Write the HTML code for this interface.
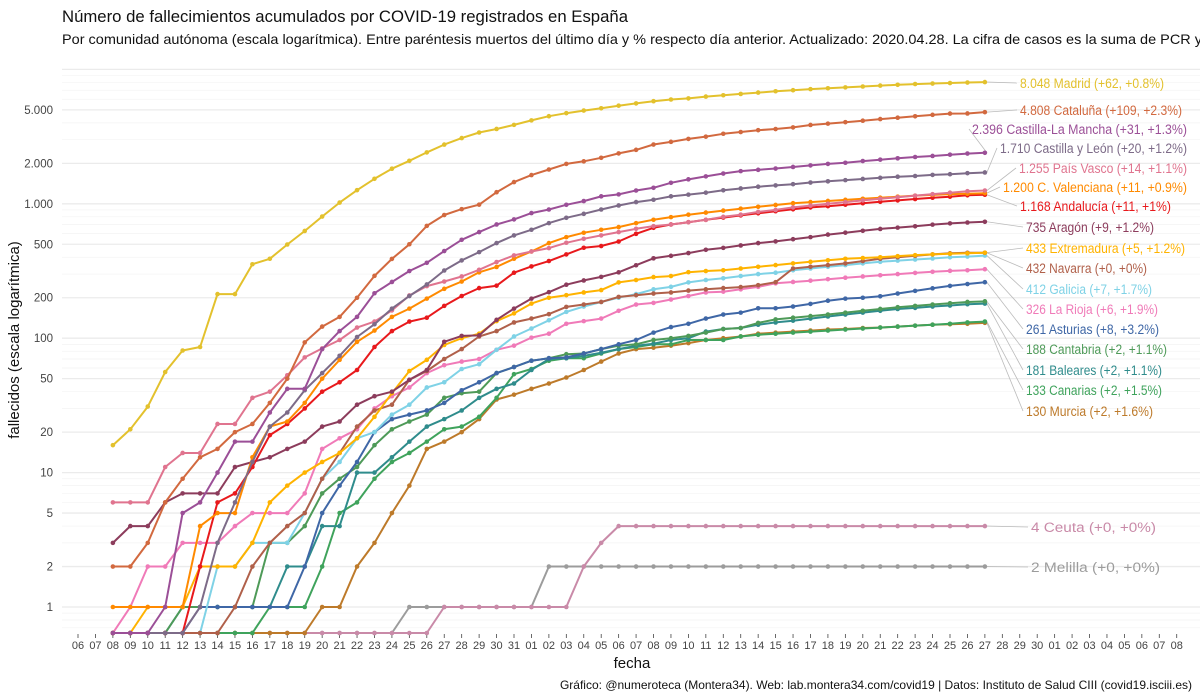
<!DOCTYPE html>
<html><head><meta charset="utf-8"><title>Fallecimientos COVID-19 España</title>
<style>
html,body{margin:0;padding:0;background:#fff;}
svg{display:block;font-family:"Liberation Sans Narrow","Liberation Sans",sans-serif;}
</style></head>
<body>
<svg id="chart" width="1200" height="700" viewBox="0 0 1200 700" xmlns="http://www.w3.org/2000/svg">
<text x="62" y="22" font-size="17" fill="#111" textLength="566" lengthAdjust="spacingAndGlyphs">Número de fallecimientos acumulados por COVID-19 registrados en España</text>
<text x="62" y="44" font-size="14" fill="#111" textLength="1140" lengthAdjust="spacingAndGlyphs">Por comunidad autónoma (escala logarítmica). Entre paréntesis muertos del último día y % respecto día anterior. Actualizado: 2020.04.28. La cifra de casos es la suma de PCR y</text>
<g id="grid"></g>
<g id="yaxis"></g>
<g id="xaxis"></g>
<g id="leaders"></g>
<g id="series"></g>
<g id="labels"></g>
<text transform="translate(19,340) rotate(-90)" text-anchor="middle" font-size="15" fill="#111">fallecidos (escala logarítmica)</text>
<text x="632" y="668" text-anchor="middle" font-size="15" fill="#111">fecha</text>
<text x="1192" y="689" text-anchor="end" font-size="12" fill="#111">Gráfico: @numeroteca (Montera34). Web: lab.montera34.com/covid19 | Datos: Instituto de Salud CIII (covid19.isciii.es)</text>
</svg>
<script>
// ---- data (days from 2020-03-08 to 2020-04-27) ----
const regions = ["Madrid","Cataluña","Castilla-La Mancha","Castilla y León","País Vasco","C. Valenciana","Andalucía","Aragón","Extremadura","Navarra","Galicia","La Rioja","Asturias","Cantabria","Baleares","Canarias","Murcia","Ceuta","Melilla"];
const madrid = [16,21,31,56,81,86,213,213,355,390,498,628,804,1021,1263,1535,1825,2090,2412,2757,3082,3392,3603,3865,4175,4483,4723,4941,5136,5371,5586,5800,5972,6084,6278,6423,6568,6724,6877,7000,7132,7239,7351,7460,7577,7684,7779,7848,7917,7986,8048];
const cataluna = [2,2,3,6,9,13,15,20,23,33,50,93,122,144,200,291,389,500,685,825,913,985,1220,1450,1635,1800,1980,2070,2200,2370,2520,2760,2890,3040,3160,3320,3420,3530,3600,3700,3860,3950,4050,4150,4270,4370,4480,4590,4690,4700,4808];
const clm = [0,0,0,1,5,6,10,17,17,28,42,42,83,113,144,216,262,316,364,445,540,616,702,765,853,907,983,1048,1136,1175,1256,1316,1433,1520,1600,1680,1750,1790,1830,1880,1930,1980,2020,2080,2130,2180,2230,2270,2320,2365,2396];
const cyl = [0,0,0,0,0,1,3,6,12,22,28,41,55,74,102,127,166,206,251,319,379,437,510,582,641,718,787,842,907,972,1030,1072,1136,1170,1210,1260,1300,1340,1370,1400,1440,1470,1500,1530,1560,1590,1610,1640,1660,1690,1710];
const pvasco = [6,6,6,11,14,14,23,23,36,40,53,72,84,97,120,133,161,208,244,264,288,323,369,413,442,468,513,549,582,616,652,682,702,730,760,800,830,870,900,940,970,1000,1030,1060,1090,1120,1150,1180,1210,1241,1255];
const cvalenciana = [1,1,1,1,1,4,5,5,13,22,24,33,50,69,94,114,144,166,197,233,264,309,339,390,442,510,565,609,641,671,718,761,796,830,860,890,920,950,980,1010,1030,1050,1070,1090,1110,1130,1150,1165,1180,1189,1200];
const andalucia = [0,0,0,0,0,2,6,7,11,19,23,30,40,47,58,86,113,133,142,174,206,236,246,307,342,375,420,471,485,524,598,663,702,730,760,790,820,850,880,910,940,960,985,1010,1035,1060,1085,1110,1130,1157,1168];
const aragon = [3,4,4,6,7,7,7,11,12,13,15,17,22,24,32,37,40,49,58,94,104,105,137,166,197,220,250,269,286,309,349,393,410,430,455,470,490,510,525,545,565,590,610,630,650,665,680,700,715,726,735];
const extremadura = [0,0,1,1,1,2,2,2,3,6,8,10,12,14,18,26,39,57,69,89,100,108,134,153,181,200,209,219,228,260,271,285,290,310,316,320,330,340,350,360,370,380,390,395,400,408,415,420,425,428,433];
const navarra = [0,0,0,0,0,0,0,1,2,3,4,5,9,14,22,29,32,49,57,70,83,103,113,131,140,151,171,178,186,203,209,215,219,226,231,236,240,248,261,330,340,350,360,375,390,400,410,420,428,432,432];
const galicia = [0,0,0,0,0,0,2,2,3,3,3,5,9,12,18,20,27,32,43,47,59,64,82,103,118,136,157,172,186,200,213,231,241,260,271,279,290,300,307,320,330,340,350,360,370,378,385,392,400,405,412];
const rioja = [0,1,2,2,3,3,3,4,5,5,5,7,15,18,21,30,37,43,55,63,67,70,82,88,101,108,128,134,140,160,178,183,194,206,219,222,231,241,256,262,268,275,282,288,294,300,306,312,317,320,326];
const asturias = [0,0,0,0,0,1,1,1,1,1,1,2,5,8,12,20,25,27,29,33,41,47,55,61,68,71,72,77,83,90,97,110,121,128,140,150,155,167,167,172,180,190,197,200,205,215,225,235,245,253,261];
const cantabria = [0,0,0,0,1,1,1,1,1,3,3,4,7,9,11,16,21,24,27,36,39,40,55,61,68,71,76,77,83,88,90,97,100,104,110,117,119,130,138,142,146,150,155,160,165,170,174,178,182,186,188];
const baleares = [0,0,0,0,1,1,1,1,1,1,2,2,4,4,10,10,13,17,22,25,29,36,42,46,58,70,71,74,78,83,88,91,97,100,112,117,119,126,131,135,140,145,150,155,160,165,168,172,175,179,181];
const canarias = [0,0,0,0,0,0,0,0,0,1,1,1,2,5,6,9,12,14,17,21,22,26,36,54,59,68,71,71,77,83,86,90,90,97,97,97,103,106,108,110,112,114,116,118,120,122,124,126,128,131,133];
const murcia = [0,0,0,0,0,0,0,0,0,0,0,0,1,1,2,3,5,8,15,17,20,25,35,38,42,46,51,58,67,77,83,85,88,92,97,100,103,108,110,112,114,116,117,119,120,122,124,126,127,128,130];
const ceuta = [0,0,0,0,0,0,0,0,0,0,0,0,0,0,0,0,0,0,0,1,1,1,1,1,1,1,1,2,3,4,4,4,4,4,4,4,4,4,4,4,4,4,4,4,4,4,4,4,4,4,4];
const melilla = [0,0,0,0,0,0,0,0,0,0,0,0,0,0,0,0,0,1,1,1,1,1,1,1,1,2,2,2,2,2,2,2,2,2,2,2,2,2,2,2,2,2,2,2,2,2,2,2,2,2,2];
const labelTexts = ["8.048 Madrid (+62, +0.8%)","4.808 Cataluña (+109, +2.3%)","2.396 Castilla-La Mancha (+31, +1.3%)","1.710 Castilla y León (+20, +1.2%)","1.255 País Vasco (+14, +1.1%)","1.200 C. Valenciana (+11, +0.9%)","1.168 Andalucía (+11, +1%)","735 Aragón (+9, +1.2%)","433 Extremadura (+5, +1.2%)","432 Navarra (+0, +0%)","412 Galicia (+7, +1.7%)","326 La Rioja (+6, +1.9%)","261 Asturias (+8, +3.2%)","188 Cantabria (+2, +1.1%)","181 Baleares (+2, +1.1%)","133 Canarias (+2, +1.5%)","130 Murcia (+2, +1.6%)","4 Ceuta (+0, +0%)","2 Melilla (+0, +0%)"];
const yTickValues = [1,2,5,10,20,50,100,200,500,1000,2000,5000];
const yTickLabels = ["1","2","5","10","20","50","100","200","500","1.000","2.000","5.000"];
const xTickLabels = ["06","07","08","09","10","11","12","13","14","15","16","17","18","19","20","21","22","23","24","25","26","27","28","29","30","31","01","02","03","04","05","06","07","08","09","10","11","12","13","14","15","16","17","18","19","20","21","22","23","24","25","26","27","28","29","30","01","02","03","04","05","06","07","08"];

// ---- styling / layout (not data) ----
const seriesList = [madrid,cataluna,clm,cyl,pvasco,cvalenciana,andalucia,aragon,extremadura,navarra,galicia,rioja,asturias,cantabria,baleares,canarias,murcia,ceuta,melilla];
const colors = ["#e3c12d","#d2693f","#9b4f97","#7d6b88","#e0748f","#ff8a00","#e8191c","#8c3c5c","#ffb300","#b0604a","#7fd2e6","#f07ab8","#3f67a6","#4e9a58","#2f8c8c","#3fa35c","#bd7a2a","#c98aa8","#9c9c9c"];
const labelX = [1020,1020,972,1000,1019,1003,1020,1026,1026,1026,1026,1026,1026,1026,1026,1026,1026,1031,1031];
const labelY = [83,110,129,148,168,187,206,227,248,268,289,309,329,349,370,390,411,527,567];
const labelW = [144,162,215,187,168,184,151,128,159,121,126,132,133,141,136,136,127,125,129];

const X0 = 78, DX = 17.44, OFF = 2;          // Mar 6 at X0; series start Mar 8
const Y1 = 607, DEC = 134.4, YBOT = 633, XL = 62, XR = 1200;
function xScale(i){ return X0 + DX*i; }
function yScale(v){ if(v<=0) return YBOT; const y = Y1 - DEC*Math.log10(v); return Math.min(y, YBOT); }
const NS = "http://www.w3.org/2000/svg";
function mk(tag, attrs, parent){ const e=document.createElementNS(NS,tag); for(const k in attrs) e.setAttribute(k,attrs[k]); parent.appendChild(e); return e; }

// grid
const grid = document.getElementById('grid');
for(let p=-1;p<=4;p++){
  for(let k=1;k<=9;k++){
    const v = k*Math.pow(10,p);
    const y = yScale(v);
    if(v<0.65 || y<60) continue;
    const major = (k===1||k===2||k===5) && v>=1;
    const ln = mk('line',{x1:XL,x2:XR,y1:y,y2:y,stroke:major?'#ebebeb':'#f3f3f3','stroke-width':major?1.3:0.7},grid);
    
    
  }
}
// y axis
const yaxis = document.getElementById('yaxis');
yTickValues.forEach((v,i)=>{
  const t = mk('text',{x:53,y:yScale(v)+4,'text-anchor':'end','font-size':11.5,fill:'#444'},yaxis);
  t.textContent = yTickLabels[i];
  
  
});
// x axis
const xaxis = document.getElementById('xaxis');
xTickLabels.forEach((s,i)=>{
  const x = xScale(i);
  const tk = mk('line',{x1:x,x2:x,y1:634,y2:638,stroke:'#444','stroke-width':0.8},xaxis);
  
  
  const t = mk('text',{x:x,y:649,'text-anchor':'middle','font-size':11,fill:'#444'},xaxis);
  t.textContent = s;
  
  
});
// series
const sg = document.getElementById('series');
const lg = document.getElementById('leaders');
const lab = document.getElementById('labels');
for(let s=seriesList.length-1;s>=0;s--){
  const vals = seriesList[s];
  const g = mk('g',{},sg);
  
  
  const pts = vals.map((v,i)=>xScale(i+OFF).toFixed(1)+','+yScale(v).toFixed(1)).join(' ');
  const pl = mk('polyline',{points:pts,fill:'none',stroke:colors[s],'stroke-width':2,'stroke-linejoin':'round'},g);
  
  
  vals.forEach((v,i)=>{
    const c = mk('circle',{cx:xScale(i+OFF),cy:yScale(v),r:2.3,fill:colors[s]},g);
    
    
  });
  const last = vals.length-1;
  const ex = xScale(last+OFF), ey = yScale(vals[last]);
  const ld = mk('line',{x1:ex+2,y1:ey,x2:labelX[s]-3,y2:labelY[s],stroke:'#bbb','stroke-width':0.8},lg);
  
  
  const t = mk('text',{x:labelX[s],y:labelY[s]+5,'font-size':13.5,fill:colors[s],textLength:labelW[s],lengthAdjust:'spacingAndGlyphs'},lab);
  t.textContent = labelTexts[s];
  
  
}
</script>
</body></html>
